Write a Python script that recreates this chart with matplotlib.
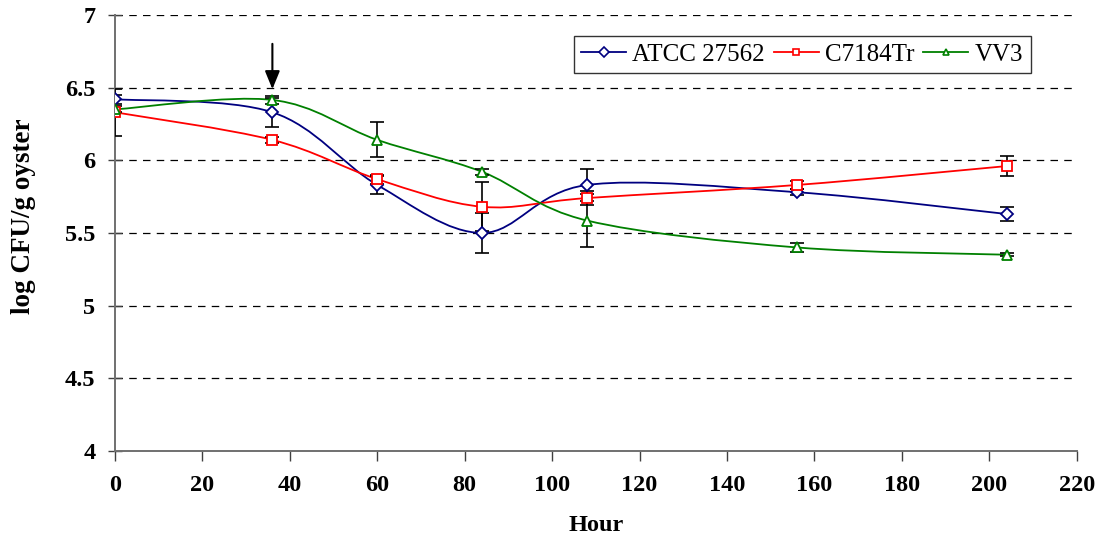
import numpy as np
import matplotlib.pyplot as plt
from matplotlib.path import Path
from matplotlib.patches import PathPatch

plt.rcParams['font.family'] = ['Liberation Serif', 'DejaVu Serif']

hours = [0, 36, 60, 84, 108, 156, 204]
labels = ['ATCC 27562', 'C7184Tr', 'VV3']
atcc = [6.42, 6.33, 5.83, 5.50, 5.83, 5.78, 5.63]
atcc_err = [0.03, 0.10, 0.06, 0.14, 0.11, 0.02, 0.045]
c7184 = [6.33, 6.14, 5.87, 5.68, 5.74, 5.83, 5.96]
c7184_err = [0.16, 0.02, 0.03, 0.17, 0.05, 0.03, 0.07]
vv3 = [6.35, 6.415, 6.14, 5.92, 5.585, 5.40, 5.35]
vv3_err = [0.02, 0.03, 0.12, 0.02, 0.18, 0.03, 0.01]
colors = ['#000080', '#FF0000', '#008000']
markers = ['D', 's', '^']


def smooth_path(x, y):
    # Catmull-Rom style bezier through the points (like Excel's smoothed line)
    pts = np.column_stack([x, y]).astype(float)
    n = len(pts)
    verts = [pts[0]]
    codes = [Path.MOVETO]
    for i in range(n - 1):
        p0 = pts[max(i - 1, 0)]
        p1 = pts[i]
        p2 = pts[i + 1]
        p3 = pts[min(i + 2, n - 1)]
        c1 = p1 + (p2 - p0) / 6.0
        c2 = p2 - (p3 - p1) / 6.0
        verts += [c1, c2, p2]
        codes += [Path.CURVE4] * 3
    return Path(verts, codes)


fig = plt.figure(figsize=(11.08, 5.42), dpi=100)
ax = fig.add_axes([0.1038, 0.168, 0.868, 0.8045])

series = [atcc, c7184, vv3]
errs = [atcc_err, c7184_err, vv3_err]
for vals, err, col, mk, lab in zip(series, errs, colors, markers, labels):
    ax.add_patch(PathPatch(smooth_path(hours, vals), facecolor='none',
                           edgecolor=col, lw=1.3, zorder=3))
    ax.errorbar(hours, vals, yerr=err, fmt='none', ecolor='black',
                elinewidth=1.2, capsize=5, capthick=1.2, zorder=4)
    ms = 6 if mk == 'D' else 7
    ax.plot(hours, vals, linestyle='none', marker=mk, ms=ms, mfc='white',
            mec=col, mew=1.3, zorder=5)
    ax.plot([], [], color=col, lw=1.3, marker=mk, ms=5, mfc='white',
            mec=col, mew=1.2, label=lab)

ax.annotate('', xy=(36, 6.47), xytext=(36, 6.82),
            arrowprops=dict(arrowstyle='-|>,head_width=0.45,head_length=1.1',
                            color='black', lw=1.5))

ax.set_xlim(0, 220)
ax.set_ylim(4, 7)
ax.set_xticks(np.arange(0, 221, 20))
ax.set_yticks([4, 4.5, 5, 5.5, 6, 6.5, 7])
ax.set_yticklabels(['4', '4.5', '5', '5.5', '6', '6.5', '7'])
for t in ax.get_xticklabels() + ax.get_yticklabels():
    t.set_fontweight('bold')
    t.set_fontsize(17.5)
ax.tick_params(axis='x', direction='out', length=7, width=1, pad=10,
               color='#404040')
ax.tick_params(axis='y', direction='inout', length=10, width=1, pad=9,
               color='#404040')
ax.yaxis.grid(True, linestyle=(0, (6, 5)), color='black', lw=0.9)
ax.set_axisbelow(True)
for s in ['top', 'right']:
    ax.spines[s].set_visible(False)
for s in ['left', 'bottom']:
    ax.spines[s].set_color('#707070')
    ax.spines[s].set_linewidth(1.4)

ax.set_xlabel('Hour', fontsize=17.5, fontweight='bold', labelpad=14)
ax.set_ylabel('log CFU/g oyster', fontsize=19.5, fontweight='bold')
ax.yaxis.set_label_coords(-0.082, 0.539)

leg = ax.legend(loc='upper right', bbox_to_anchor=(0.952, 0.952), ncol=3,
                fontsize=18, frameon=True, fancybox=False, edgecolor='black',
                handlelength=1.8, handletextpad=0.25, columnspacing=0.35,
                borderpad=0.3, borderaxespad=0)
leg.get_frame().set_linewidth(1.0)

fig.savefig('out.png', dpi=100)
